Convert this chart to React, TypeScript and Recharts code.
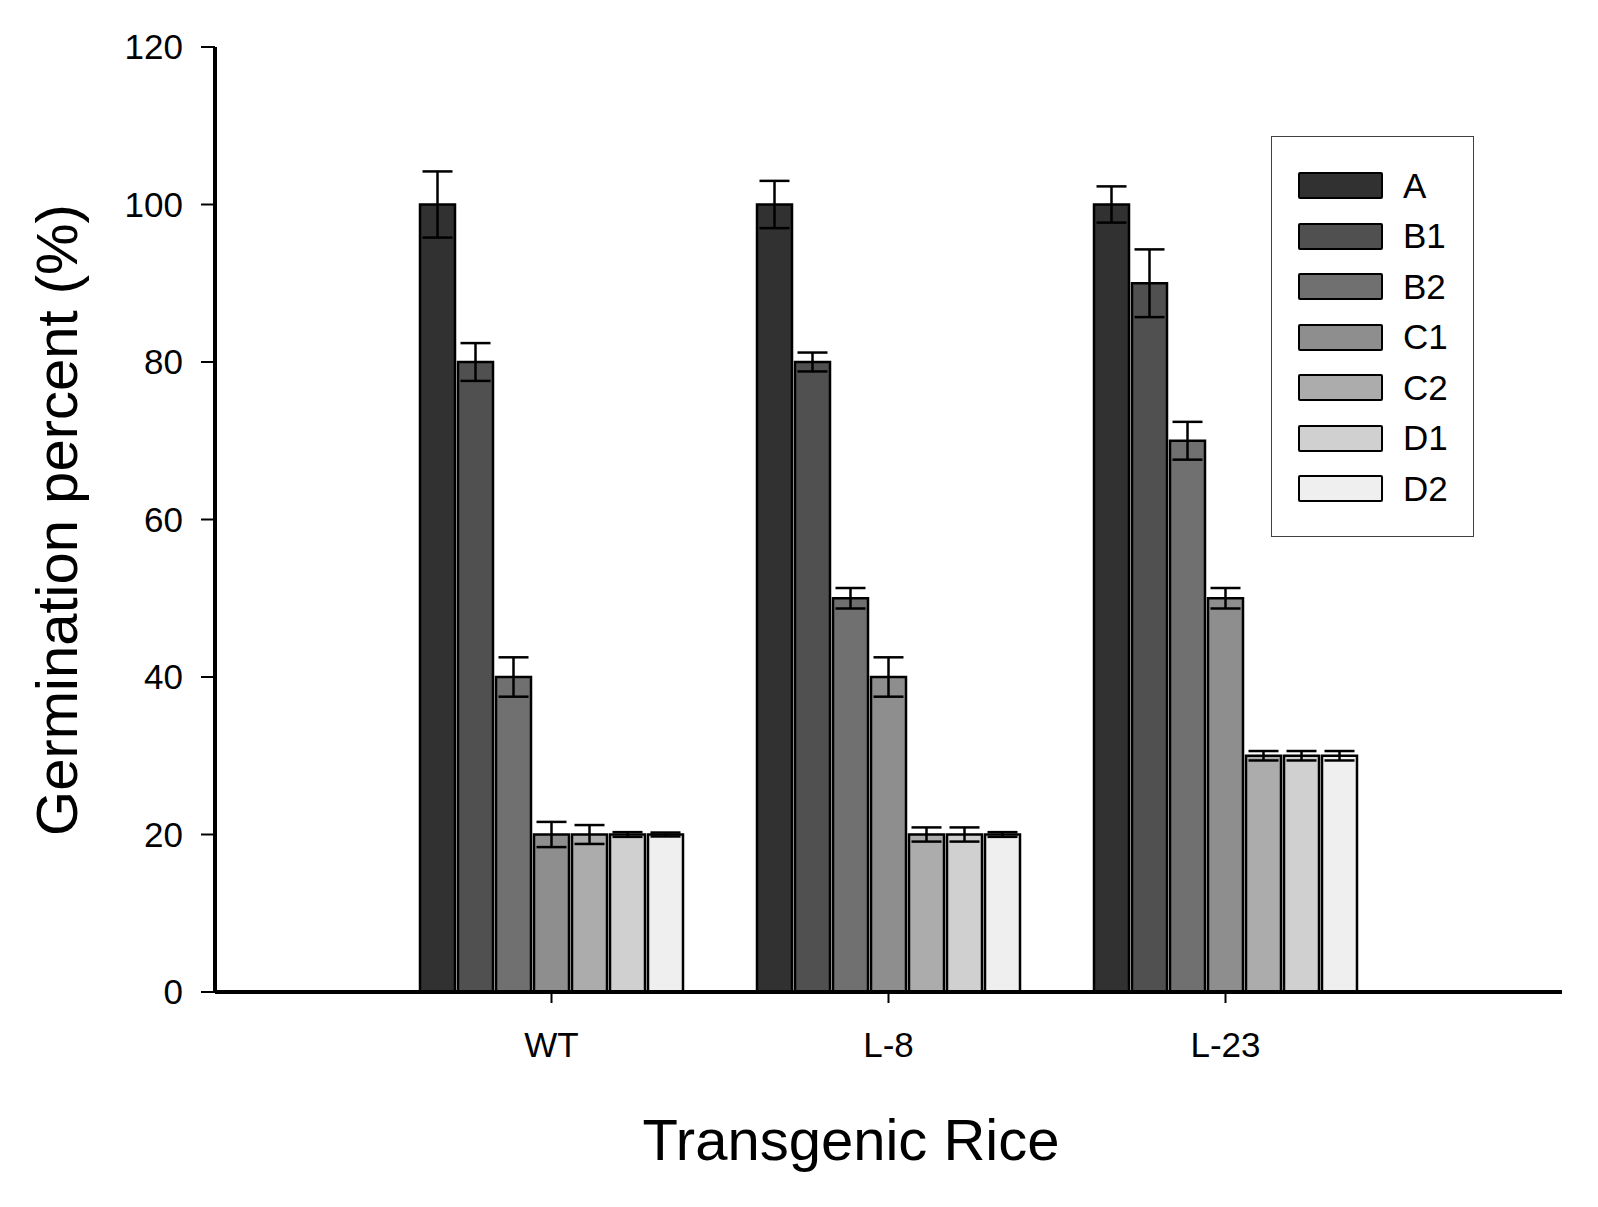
import React from 'react';
import { BarChart, Bar, XAxis, YAxis, ErrorBar } from 'recharts';

const categories = ['WT', 'L-8', 'L-23'];
const seriesNames = ['A', 'B1', 'B2', 'C1', 'C2', 'D1', 'D2'];
const seriesColors = ['#313131', '#505050', '#707070', '#8e8e8e', '#acacac', '#d0d0d0', '#efefef'];

const valuesA = [100, 100, 100];
const valuesB1 = [80, 80, 90];
const valuesB2 = [40, 50, 70];
const valuesC1 = [20, 40, 50];
const valuesC2 = [20, 20, 30];
const valuesD1 = [20, 20, 30];
const valuesD2 = [20, 20, 30];

const errA = [4.2, 3.0, 2.3];
const errB1 = [2.4, 1.2, 4.3];
const errB2 = [2.5, 1.3, 2.4];
const errC1 = [1.6, 2.5, 1.3];
const errC2 = [1.2, 0.9, 0.6];
const errD1 = [0.3, 0.9, 0.6];
const errD2 = [0.25, 0.3, 0.6];

const yTicks = [0, 20, 40, 60, 80, 100, 120];

const seriesValues = [valuesA, valuesB1, valuesB2, valuesC1, valuesC2, valuesD1, valuesD2];
const seriesErrors = [errA, errB1, errB2, errC1, errC2, errD1, errD2];

const data = categories.map((name, i) => {
  const row: Record<string, string | number> = { name };
  seriesNames.forEach((s, k) => {
    row[s] = seriesValues[k][i];
    row['err' + s] = seriesErrors[k][i];
  });
  return row;
});

const FONT = '"Liberation Sans", Arial, Helvetica, sans-serif';

export default function App() {
  return (
    <div style={{ position: 'absolute', left: 0, top: 0, width: 1598, height: 1207, background: '#fff', fontFamily: FONT }}>
      <BarChart
        width={1598}
        height={1207}
        data={data}
        margin={{ top: 47, right: 36, left: 0, bottom: 0 }}
        barSize={35}
        barGap={3}
        style={{ fontFamily: FONT }}
      >
        <XAxis
          dataKey="name"
          type="category"
          height={215}
          padding={{ left: 168, right: 168 }}
          axisLine={{ stroke: '#000', strokeWidth: 4 }}
          tickLine={{ stroke: '#000', strokeWidth: 2 }}
          tickSize={11}
          tickMargin={29}
          tick={{ fill: '#000', fontSize: 35, fontFamily: FONT }}
          label={{
            content: () => (
              <text x={851} y={1160} textAnchor="middle" fontSize={58} fill="#000" fontFamily={FONT}>
                Transgenic Rice
              </text>
            ),
          }}
        />
        <YAxis
          type="number"
          domain={[0, 120]}
          ticks={yTicks}
          width={215}
          axisLine={{ stroke: '#000', strokeWidth: 4 }}
          tickLine={{ stroke: '#000', strokeWidth: 2 }}
          tickSize={14}
          tickMargin={18}
          tick={{ fill: '#000', fontSize: 35, fontFamily: FONT }}
          label={{
            content: () => (
              <text
                x={77}
                y={520}
                transform="rotate(-90 77 520)"
                textAnchor="middle"
                fontSize={58}
                fill="#000"
                fontFamily={FONT}
              >
                Germination percent (%)
              </text>
            ),
          }}
        />
        {seriesNames.map((s, k) => (
          <Bar
            key={s}
            dataKey={s}
            fill={seriesColors[k]}
            stroke="#000"
            strokeWidth={2.5}
            isAnimationActive={false}
          >
            <ErrorBar dataKey={'err' + s} width={15} stroke="#000" strokeWidth={2.5} direction="y" />
          </Bar>
        ))}
      </BarChart>
      <div
        style={{
          position: 'absolute',
          left: 1271,
          top: 136,
          width: 203,
          height: 401,
          boxSizing: 'border-box',
          border: '1px solid #404040',
          background: '#fff',
        }}
      >
        {seriesNames.map((s, k) => (
          <React.Fragment key={s}>
            <div
              style={{
                position: 'absolute',
                left: 26,
                top: 35 + k * 50.5,
                width: 85,
                height: 27,
                boxSizing: 'border-box',
                border: '2.5px solid #000',
                borderRadius: 2,
                background: seriesColors[k],
              }}
            />
            <div
              style={{
                position: 'absolute',
                left: 131,
                top: 35 + k * 50.5 + 13.5 - 20,
                height: 40,
                lineHeight: '40px',
                fontSize: 35,
                color: '#000',
                fontFamily: FONT,
              }}
            >
              {s}
            </div>
          </React.Fragment>
        ))}
      </div>
    </div>
  );
}
